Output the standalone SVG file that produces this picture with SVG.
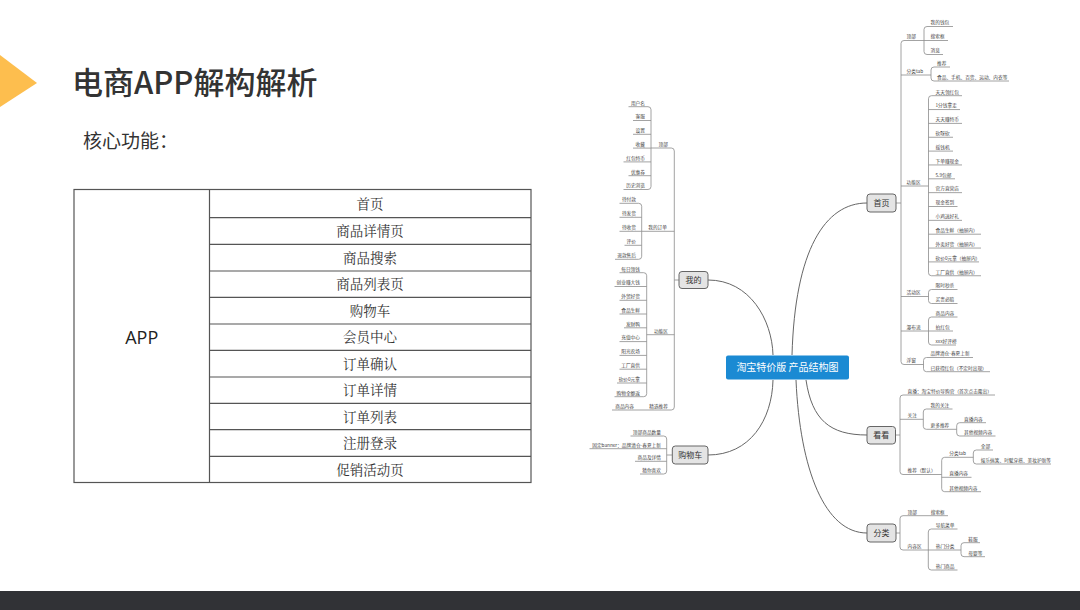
<svg xmlns="http://www.w3.org/2000/svg" width="1080" height="610" viewBox="0 0 1080 610">
<style>
.t{font-family:"Noto Sans CJK SC","Noto Sans",sans-serif;font-size:4.7px;fill:#444}
.e{text-anchor:end}
.ln{fill:none;stroke:#8c8c8c;stroke-width:0.8}
.cv{fill:none;stroke:#666;stroke-width:1}
.nd{fill:#e4e4e4;stroke:#666;stroke-width:1}
.nt{font-family:"Noto Sans CJK SC",sans-serif;font-size:8px;fill:#333;text-anchor:middle}
.cell{font-family:"Noto Serif CJK SC","Noto Sans CJK SC",serif;font-size:13.5px;fill:#333;text-anchor:middle}
.tl{fill:none;stroke:#555;stroke-width:1.2}
</style>
<rect x="0" y="0" width="1080" height="610" fill="#fff"/>
<g id="header">
<polygon points="0,55 37,83 0,107" fill="#FDBE4E"/>
<text x="72" y="93.5" font-family="Noto Sans CJK SC,sans-serif" font-size="31" font-weight="500" fill="#333">电商APP解构解析</text>
<text x="83" y="148" font-family="Noto Sans CJK SC,sans-serif" font-size="19" fill="#333">核心功能：</text>
</g>
<g id="table">
<rect class="tl" x="74" y="189.5" width="457" height="293"/>
<path class="tl" d="M209.5 189.5V482.5M209.5 217.7H531M209.5 244.3H531M209.5 271H531M209.5 297.3H531M209.5 324H531M209.5 350.3H531M209.5 377H531M209.5 403.3H531M209.5 429.7H531M209.5 456.3H531"/>
<text x="141.7" y="343.5" font-family="Open Sans,Liberation Sans,sans-serif" font-size="18" fill="#222" text-anchor="middle">APP</text>
<text class="cell" x="370" y="208.6">首页</text>
<text class="cell" x="370" y="236">商品详情页</text>
<text class="cell" x="370" y="262.7">商品搜索</text>
<text class="cell" x="370" y="289.2">商品列表页</text>
<text class="cell" x="370" y="315.7">购物车</text>
<text class="cell" x="370" y="342.2">会员中心</text>
<text class="cell" x="370" y="368.7">订单确认</text>
<text class="cell" x="370" y="395.2">订单详情</text>
<text class="cell" x="370" y="421.5">订单列表</text>
<text class="cell" x="370" y="448">注册登录</text>
<text class="cell" x="370" y="474.5">促销活动页</text>
</g>
<g id="connectors">
<path class="cv" d="M792 355C795 250 825 203 867 203"/>
<path class="cv" d="M806 380C812 420 830 435 867 435"/>
<path class="cv" d="M796 380C800 470 825 533 867 533"/>
<path class="cv" d="M708 280C750 280 772 320 773 355"/>
<path class="cv" d="M708 455C750 455 772 420 773 380"/>
<!-- 首页 -->
<path class="ln" d="M896 203H901M924 40.5H904Q901 40.5 901 43.5V361.5Q901 364.5 904 364.5H923.5M901 75H931M901 186H928.5M901 296.5H928.5M901 331H928.5"/>
<path class="ln" d="M953 26.5H927Q924 26.5 924 29.5V51.5Q924 54.5 927 54.5H943M924 40.5H948"/>
<path class="ln" d="M950 67H934Q931 67 931 70V78Q931 81 934 81H1009"/>
<path class="ln" d="M962 95.7H931.5Q928.5 95.7 928.5 98.7V272.75Q928.5 275.75 931.5 275.75H981M928.5 109.55H960M928.5 123.4H962M928.5 137.25H953M928.5 151.1H953M928.5 164.95H962M928.5 178.8H955M928.5 192.65H962M928.5 206.5H957.5M928.5 220.35H962M928.5 234.2H981M928.5 248.05H981M928.5 261.9H979"/>
<path class="ln" d="M957.5 289.5H931.5Q928.5 289.5 928.5 292.5V300.5Q928.5 303.5 931.5 303.5H957.5"/>
<path class="ln" d="M957.5 317H931.5Q928.5 317 928.5 320V342Q928.5 345 931.5 345H956M928.5 331H953"/>
<path class="ln" d="M973 357.5H926.5Q923.5 357.5 923.5 360.5V368.7Q923.5 371.7 926.5 371.7H990"/>
<!-- 看看 -->
<path class="ln" d="M895 435H900M995 395H903Q900 395 900 398V471.5Q900 474.5 903 474.5H941.7M900 419.3H923.3"/>
<path class="ln" d="M952.5 409H926.3Q923.3 409 923.3 412V426.3Q923.3 429.3 926.3 429.3H956.7"/>
<path class="ln" d="M986 422.7H959.7Q956.7 422.7 956.7 425.7V433Q956.7 436 959.7 436H995.5"/>
<path class="ln" d="M973.3 457.3H944.7Q941.7 457.3 941.7 460.3V488.7Q941.7 491.7 944.7 491.7H981M941.7 477.3H971.5"/>
<path class="ln" d="M993 450H976.3Q973.3 450 973.3 453V461Q973.3 464 976.3 464H1051"/>
<!-- 分类 -->
<path class="ln" d="M896 533H900M948 515.7H903Q900 515.7 900 518.7V547Q900 550 903 550H961"/>
<path class="ln" d="M957.5 529H931.3Q928.3 529 928.3 532V567Q928.3 570 931.3 570H957.5"/>
<path class="ln" d="M980 542.7H964Q961 542.7 961 545.7V553.7Q961 556.7 964 556.7H985"/>
<!-- 我的 -->
<path class="ln" d="M679 280H674.3M651 148H671.3Q674.3 148 674.3 151V407Q674.3 410 671.3 410H612M674.3 231.3H641.7M674.3 334.7H646.7"/>
<path class="ln" d="M628.5 106.7H648Q651 106.7 651 109.7V186.5Q651 189.5 648 189.5H623.5M651 120.5H633M651 134.3H633M651 148.1H633M651 161.9H623.5M651 175.7H628.5"/>
<path class="ln" d="M619.5 203.3H638.7Q641.7 203.3 641.7 206.3V256.3Q641.7 259.3 638.7 259.3H615M641.7 217.3H619.5M641.7 231.3H619.5M641.7 245.3H624.5"/>
<path class="ln" d="M619.5 272.7H643.7Q646.7 272.7 646.7 275.7V393.7Q646.7 396.7 643.7 396.7H614.5M646.7 286.5H614.5M646.7 300.3H619.5M646.7 314H619.5M646.7 327.8H624M646.7 341.6H619.5M646.7 355.4H619.5M646.7 369.2H619.5M646.7 383H617"/>
<!-- 购物车 -->
<path class="ln" d="M672.3 455H666.7M630.5 436H663.7Q666.7 436 666.7 439V471Q666.7 474 663.7 474H640M666.7 448.7H589.5M666.7 461.3H635"/>
</g>
<g id="center">
<rect x="726" y="355.5" width="123" height="24" rx="2" fill="#1b8ad3"/>
<text x="787.5" y="371.3" font-family="Noto Sans CJK SC,sans-serif" font-size="10" fill="#fff" text-anchor="middle">淘宝特价版 产品结构图</text>
</g>
<g id="n-shouye">
<rect class="nd" x="867" y="194" width="29" height="18" rx="3"/>
<text class="nt" x="881.5" y="206">首页</text>
<text class="t" x="906.5" y="38.3">顶部</text>
<text class="t" x="930.5" y="24.3">我的钱包</text>
<text class="t" x="930.5" y="38.3">搜索框</text>
<text class="t" x="930.5" y="52.3">消息</text>
<text class="t" x="906.5" y="72.8">分类tab</text>
<text class="t" x="937" y="64.8">推荐</text>
<text class="t" x="937" y="78.8">食品、手机、百货、运动、内衣等</text>
<text class="t" x="906.5" y="183.8">功能区</text>
<text class="t" x="935.5" y="93.5">天天领红包</text>
<text class="t" x="935.5" y="107.35">1分钱拿走</text>
<text class="t" x="935.5" y="121.2">天天赚特币</text>
<text class="t" x="935.5" y="135.05">砍呀砍</text>
<text class="t" x="935.5" y="148.9">摇钱机</text>
<text class="t" x="935.5" y="162.75">下单赚现金</text>
<text class="t" x="935.5" y="176.6">5.9包邮</text>
<text class="t" x="935.5" y="190.45">官方直营店</text>
<text class="t" x="935.5" y="204.3">现金签到</text>
<text class="t" x="935.5" y="218.15">小鸡送好礼</text>
<text class="t" x="935.5" y="232">食品生鲜（抽屉内）</text>
<text class="t" x="935.5" y="245.85">外卖好货（抽屉内）</text>
<text class="t" x="935.5" y="259.7">砍价0元拿（抽屉内）</text>
<text class="t" x="935.5" y="273.55">工厂直供（抽屉内）</text>
<text class="t" x="906.5" y="294.3">活动区</text>
<text class="t" x="935.5" y="287.3">限时秒杀</text>
<text class="t" x="935.5" y="301.3">买贵必赔</text>
<text class="t" x="906.5" y="328.8">瀑布流</text>
<text class="t" x="935.5" y="314.8">商品内容</text>
<text class="t" x="935.5" y="328.8">拍红包</text>
<text class="t" x="935.5" y="342.8">xxx好评榜</text>
<text class="t" x="906.5" y="362.3">浮窗</text>
<text class="t" x="930.5" y="355.3">品牌清仓-春夏上新</text>
<text class="t" x="930.5" y="369.5">已获得红包（不定时出现）</text>
</g>
<g id="n-kankan">
<rect class="nd" x="867" y="426.5" width="28.5" height="17.5" rx="3"/>
<text class="nt" x="881.2" y="438">看看</text>
<text class="t" x="907.5" y="392.8">直播：淘宝特价导购官（首次点击露出）</text>
<text class="t" x="907.5" y="417.1">关注</text>
<text class="t" x="930.5" y="406.8">我的关注</text>
<text class="t" x="930.5" y="427.1">更多推荐</text>
<text class="t" x="964" y="420.5">直播内容</text>
<text class="t" x="964" y="433.8">其他视频内容</text>
<text class="t" x="907.5" y="472.3">推荐（默认）</text>
<text class="t" x="949.3" y="455.1">分类tab</text>
<text class="t" x="980.7" y="447.8">全部</text>
<text class="t" x="980.7" y="461.8">娱乐搞笑、时髦穿搭、美妆护肤等</text>
<text class="t" x="949.3" y="475.1">直播内容</text>
<text class="t" x="949.3" y="489.5">其他视频内容</text>
</g>
<g id="n-fenlei">
<rect class="nd" x="867" y="524" width="29" height="18" rx="3"/>
<text class="nt" x="881.5" y="536">分类</text>
<text class="t" x="907.5" y="513.5">顶部</text>
<text class="t" x="930.7" y="513.5">搜索框</text>
<text class="t" x="907.5" y="547.8">内容区</text>
<text class="t" x="935.7" y="526.8">导航菜单</text>
<text class="t" x="935.7" y="547.8">热门分类</text>
<text class="t" x="935.7" y="567.8">热门商品</text>
<text class="t" x="968.3" y="540.5">鞋服</text>
<text class="t" x="968.3" y="554.5">母婴等</text>
</g>
<g id="n-wode">
<rect class="nd" x="679" y="271.5" width="29" height="17" rx="3"/>
<text class="nt" x="693.5" y="283">我的</text>
<text class="t e" x="668" y="145.8">顶部</text>
<text class="t e" x="645" y="104.5">用户名</text>
<text class="t e" x="645" y="118.3">客服</text>
<text class="t e" x="645" y="132.1">设置</text>
<text class="t e" x="645" y="145.9">收藏</text>
<text class="t e" x="645" y="159.7">红包特币</text>
<text class="t e" x="645" y="173.5">优惠券</text>
<text class="t e" x="645" y="187.3">历史浏览</text>
<text class="t e" x="667" y="229.1">我的订单</text>
<text class="t e" x="636" y="201.1">待付款</text>
<text class="t e" x="636" y="215.1">待发货</text>
<text class="t e" x="636" y="229.1">待收货</text>
<text class="t e" x="636" y="243.1">评价</text>
<text class="t e" x="636" y="257.1">退款售后</text>
<text class="t e" x="668" y="332.5">功能区</text>
<text class="t e" x="640" y="270.5">每日领钱</text>
<text class="t e" x="640" y="284.3">创业赚大钱</text>
<text class="t e" x="640" y="298.1">外贸好货</text>
<text class="t e" x="640" y="311.8">食品生鲜</text>
<text class="t e" x="640" y="325.6">发财鸭</text>
<text class="t e" x="640" y="339.4">充值中心</text>
<text class="t e" x="640" y="353.2">阳光农场</text>
<text class="t e" x="640" y="367">工厂直供</text>
<text class="t e" x="640" y="380.8">砍价0元拿</text>
<text class="t e" x="640" y="394.5">购物全额返</text>
<text class="t e" x="668" y="407.8">精选推荐</text>
<text class="t e" x="634" y="407.8">商品内容</text>
</g>
<g id="n-gouwuche">
<rect class="nd" x="672.3" y="446" width="35.7" height="18" rx="3"/>
<text class="nt" x="690.2" y="458">购物车</text>
<text class="t e" x="661" y="433.8">顶部商品数量</text>
<text class="t e" x="661" y="446.5">固定banner：品牌清仓-春夏上新</text>
<text class="t e" x="661" y="459.1">商品及详情</text>
<text class="t e" x="661" y="471.8">猜你喜欢</text>
</g>
<rect id="footer" x="0" y="591" width="1080" height="19" fill="#313236"/>
</svg>
